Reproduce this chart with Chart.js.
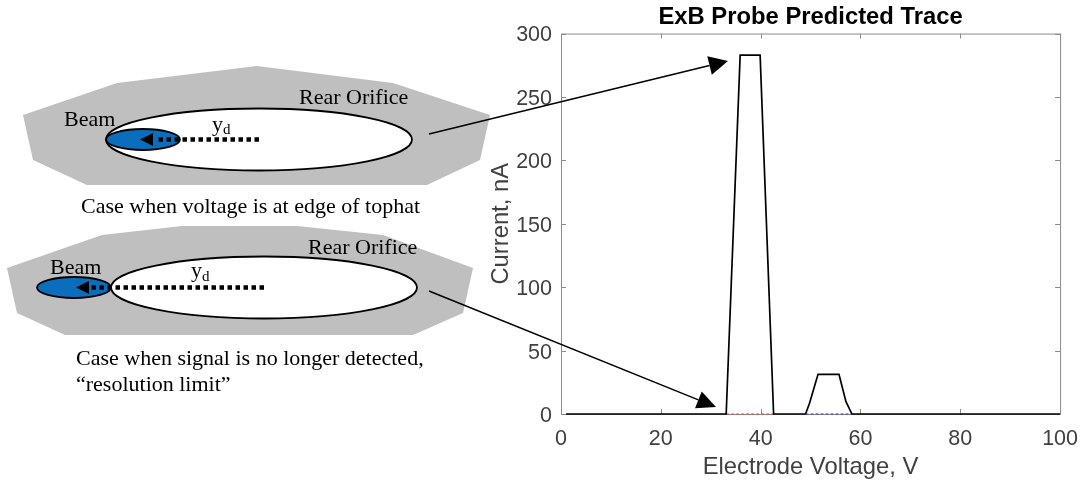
<!DOCTYPE html>
<html><head><meta charset="utf-8">
<style>html,body{margin:0;padding:0;background:#fff}#w{width:1082px;height:482px;position:relative}</style>
<script src="https://cdn.jsdelivr.net/npm/chart.js@4"></script></head>
<body><div id="w"><canvas id="c" width="1082" height="482"></canvas></div>
<script>
const voltage = [1, 33.1, 35.9, 39.9, 42.6, 49, 49.8, 51.5, 55.7, 57.1, 58.3, 100];
const current = [0, 0, 283, 283, 0, 0, 8.4, 31.3, 31.3, 9.7, 0, 0];
const redX = [33.1, 42.6];
const blueX = [49, 58.3];
const baseY = [0, 0];
const xTicks = [0, 20, 40, 60, 80, 100];
const yTicks = [0, 50, 100, 150, 200, 250, 300];
const titleText = 'ExB Probe Predicted Trace';
const xLabel = 'Electrode Voltage, V';
const yLabel = 'Current, nA';

const toXY = (xs, ys) => xs.map((x, i) => ({x, y: ys[i]}));
const textColor = '#404040';
const frameColor = '#8c8c8c';

function poly(ctx, pts, fill) {
  ctx.beginPath();
  pts.forEach((p, i) => i ? ctx.lineTo(p[0], p[1]) : ctx.moveTo(p[0], p[1]));
  ctx.closePath();
  ctx.fillStyle = fill;
  ctx.fill();
}
function ell(ctx, cx, cy, rx, ry, fill) {
  ctx.beginPath();
  ctx.ellipse(cx, cy, rx, ry, 0, 0, Math.PI * 2);
  ctx.fillStyle = fill;
  ctx.fill();
  ctx.lineWidth = 1.8;
  ctx.strokeStyle = '#000';
  ctx.stroke();
}
function arrow(ctx, x1, y1, x2, y2, len, half, lw) {
  const a = Math.atan2(y2 - y1, x2 - x1);
  const bx = x2 - len * Math.cos(a), by = y2 - len * Math.sin(a);
  ctx.beginPath();
  ctx.moveTo(x1, y1);
  ctx.lineTo(bx, by);
  ctx.lineWidth = lw;
  ctx.strokeStyle = '#000';
  ctx.setLineDash([]);
  ctx.stroke();
  poly(ctx, [[x2, y2],
    [bx + half * Math.sin(a), by - half * Math.cos(a)],
    [bx - half * Math.sin(a), by + half * Math.cos(a)]], '#000');
}
function dotted(ctx, x1, x2, y) {
  ctx.beginPath();
  ctx.moveTo(x1, y);
  ctx.lineTo(x2, y);
  ctx.lineWidth = 4.5;
  ctx.strokeStyle = '#000';
  ctx.setLineDash([4.5, 3.5]);
  ctx.stroke();
  ctx.setLineDash([]);
}
function txt(ctx, s, x, y, size) {
  ctx.font = size + 'px "Liberation Serif"';
  ctx.fillStyle = '#000';
  ctx.textAlign = 'left';
  ctx.textBaseline = 'alphabetic';
  ctx.fillText(s, x, y);
}

const framePlugin = {
  id: 'frame',
  beforeDraw(chart) {
    // nudge y tick labels so the digits centre on their tick marks
    chart.scales.y.getLabelItems().forEach(item => {
      if (!item.nudged) { item.options.translation[1] += 2; item.nudged = true; }
    });
  },
  beforeDatasetsDraw(chart) {
    const {ctx, chartArea: a, scales: {x, y}} = chart;
    ctx.save();
    ctx.strokeStyle = frameColor;
    ctx.lineWidth = 1;
    ctx.beginPath();
    ctx.rect(a.left + .5, a.top + .5, a.right - a.left, a.bottom - a.top);
    xTicks.forEach(v => {
      const p = Math.round(x.getPixelForValue(v)) + .5;
      ctx.moveTo(p, a.bottom); ctx.lineTo(p, a.bottom - 5);
      ctx.moveTo(p, a.top); ctx.lineTo(p, a.top + 5);
    });
    yTicks.forEach(v => {
      const p = Math.round(y.getPixelForValue(v)) + .5;
      ctx.moveTo(a.left, p); ctx.lineTo(a.left + 5, p);
      ctx.moveTo(a.right, p); ctx.lineTo(a.right - 5, p);
    });
    ctx.stroke();
    ctx.restore();
  },
  afterDraw(chart) {
    const {ctx} = chart;
    ctx.save();
    // upper diagram
    poly(ctx, [[23,115],[117,83],[257,66],[393,83],[490,115],[480,160],[427,185],[87,185],[33,160]], '#bfbfbf');
    ell(ctx, 259, 139.5, 153, 31, '#fff');
    ell(ctx, 143, 139.5, 37, 10.5, '#0a6ebd');
    dotted(ctx, 259, 155, 139.5);
    poly(ctx, [[140,139.5],[153,133],[153,146]], '#000');
    txt(ctx, 'Beam', 64, 126, 22);
    txt(ctx, 'Rear Orifice', 299, 104, 22);
    txt(ctx, 'y', 212, 131, 22);
    txt(ctx, 'd', 223, 134, 15);
    txt(ctx, 'Case when voltage is at edge of tophat', 81, 213, 22);
    // lower diagram
    poly(ctx, [[7,268],[102,235],[182,226],[297,226],[383,235],[473,268],[463,313],[413,335],[65,335],[17,313]], '#bfbfbf');
    ell(ctx, 264, 287.5, 153, 31, '#fff');
    ell(ctx, 74, 287.5, 37, 10.5, '#0a6ebd');
    dotted(ctx, 264, 89, 287.5);
    poly(ctx, [[76,287.5],[89,281],[89,294]], '#000');
    txt(ctx, 'Beam', 50, 274, 22);
    txt(ctx, 'Rear Orifice', 308, 254, 22);
    txt(ctx, 'y', 191, 277, 22);
    txt(ctx, 'd', 202, 281, 15);
    txt(ctx, 'Case when signal is no longer detected,', 76, 365, 22);
    txt(ctx, '\u201Cresolution limit\u201D', 76, 391, 22);
    // pointers
    arrow(ctx, 429, 134, 728, 61, 19, 9.5, 1.5);
    arrow(ctx, 429, 291, 716, 407, 19, 9, 1.5);
    ctx.restore();
  }
};

new Chart(document.getElementById('c'), {
  type: 'line',
  data: {datasets: [
    {label: 'Red', data: toXY(redX, baseY), borderColor: '#e04040', borderWidth: 1, borderDash: [3, 2], pointRadius: 0, order: 2, clip: false},
    {label: 'Blue', data: toXY(blueX, baseY), borderColor: '#3030d0', borderWidth: 1, borderDash: [3, 2], pointRadius: 0, order: 2, clip: false},
    {label: 'Current', data: toXY(voltage, current), borderColor: '#000', borderWidth: 1.7, pointRadius: 0, tension: 0, order: 1, clip: false}
  ]},
  options: {
    responsive: false, animation: false, devicePixelRatio: 1,
    layout: {padding: {left: 487, right: 21, top: 0, bottom: 0}},
    plugins: {
      legend: {display: false}, tooltip: {enabled: false},
      title: {display: true, text: titleText, fullSize: false, color: '#000',
        font: {family: '"Liberation Sans"', size: 23.8, weight: 'bold'}, padding: {top: 3, bottom: 2}}
    },
    scales: {
      x: {type: 'linear', min: 0, max: 100,
        afterBuildTicks(s) { s.ticks = xTicks.map(value => ({value})); },
        afterFit(s) { s.height = 68; },
        grid: {display: false}, border: {display: false},
        ticks: {color: textColor, maxRotation: 0, padding: 4, font: {family: '"Liberation Sans"', size: 21.5}},
        title: {display: true, text: xLabel, color: textColor, padding: {top: 3, bottom: 0}, font: {family: '"Liberation Sans"', size: 23.8}}},
      y: {min: 0, max: 300,
        afterBuildTicks(s) { s.ticks = yTicks.map(value => ({value})); },
        afterFit(s) { s.width = 74; },
        grid: {display: false}, border: {display: false},
        ticks: {color: textColor, padding: 1, font: {family: '"Liberation Sans"', size: 21.5}},
        title: {display: true, text: yLabel, color: textColor, padding: {top: 0, bottom: 0}, font: {family: '"Liberation Sans"', size: 23.8}}}
    }
  },
  plugins: [framePlugin]
});
</script></body></html>
